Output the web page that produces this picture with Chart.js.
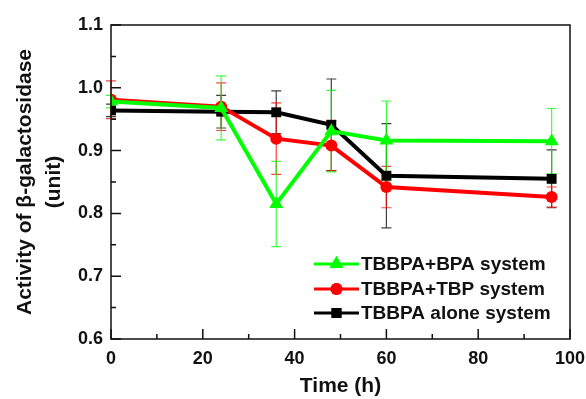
<!DOCTYPE html>
<html>
<head>
<meta charset="utf-8">
<script src="https://cdn.jsdelivr.net/npm/chart.js@4"></script>
<style>
html,body{margin:0;padding:0;background:#fff;}
#wrap{width:586px;height:399px;}
</style>
</head>
<body>
<div id="wrap"><canvas id="c" width="586" height="399"></canvas></div>
<script>
const times = [0, 24, 36, 48, 60, 96];
const seriesNames = ['TBBPA+BPA system', 'TBBPA+TBP system', 'TBBPA alone system'];
const bpaValues = [0.978, 0.968, 0.815, 0.931, 0.916, 0.915];
const bpaErrors = [0.010, 0.051, 0.068, 0.065, 0.063, 0.052];
const tbpValues = [0.981, 0.970, 0.919, 0.908, 0.842, 0.826];
const tbpErrors = [0.030, 0.038, 0.057, 0.040, 0.033, 0.016];
const aloneValues = [0.964, 0.962, 0.961, 0.941, 0.860, 0.855];
const aloneErrors = [0.010, 0.026, 0.034, 0.073, 0.083, 0.046];
const xTicks = [0, 20, 40, 60, 80, 100];
const yTicks = [0.6, 0.7, 0.8, 0.9, 1.0, 1.1];

const colors = ['#00ff00', '#ff0000', '#000000'];
const styles = ['triangle', 'circle', 'rect'];
const radii = [8, 6, 7];
const allValues = [bpaValues, tbpValues, aloneValues];
const allErrors = [bpaErrors, tbpErrors, aloneErrors];

const datasets = allValues.map((vals, i) => ({
  label: seriesNames[i],
  data: times.map((t, j) => ({x: t, y: vals[j]})),
  errors: allErrors[i],
  borderColor: colors[i],
  backgroundColor: colors[i],
  borderWidth: 4,
  pointStyle: styles[i],
  pointRadius: radii[i],
  pointBorderWidth: 0,
  pointBackgroundColor: colors[i],
  tension: 0,
  fill: false
}));

const errorBars = {
  id: 'errorBars',
  beforeDatasetsDraw(chart) {
    const ctx = chart.ctx;
    const xs = chart.scales.x, ys = chart.scales.y;
    ctx.save();
    for (let i = chart.data.datasets.length - 1; i >= 0; i--) {
      const ds = chart.data.datasets[i];
      ctx.strokeStyle = ds.borderColor;
      ctx.globalAlpha = 0.75;
      ctx.lineWidth = 1.2;
      ds.data.forEach((p, j) => {
        const e = ds.errors[j];
        const px = xs.getPixelForValue(p.x);
        const top = ys.getPixelForValue(p.y + e);
        const bot = ys.getPixelForValue(p.y - e);
        ctx.beginPath();
        ctx.moveTo(px, top); ctx.lineTo(px, bot);
        ctx.moveTo(px - 5, top); ctx.lineTo(px + 5, top);
        ctx.moveTo(px - 5, bot); ctx.lineTo(px + 5, bot);
        ctx.stroke();
      });
    }
    ctx.restore();
  }
};

const frame = {
  id: 'frame',
  afterDraw(chart) {
    const ctx = chart.ctx;
    const a = chart.chartArea;
    const xs = chart.scales.x, ys = chart.scales.y;
    ctx.save();
    ctx.strokeStyle = '#111';
    ctx.lineWidth = 1.5;
    ctx.strokeRect(a.left, a.top, a.right - a.left, a.bottom - a.top);
    ctx.beginPath();
    for (let v = 0; v <= 100; v += 10) {
      const px = xs.getPixelForValue(v);
      const len = (v % 20 === 0) ? 10 : 5;
      ctx.moveTo(px, a.bottom); ctx.lineTo(px, a.bottom - len);
    }
    for (let k = 0; k <= 10; k++) {
      const v = 0.6 + k * 0.05;
      const py = ys.getPixelForValue(v);
      const len = (k % 2 === 0) ? 10 : 5;
      ctx.moveTo(a.left, py); ctx.lineTo(a.left + len, py);
    }
    ctx.stroke();

    // legend
    const rows = [264, 289, 313];
    const lx0 = 314, lx1 = 359;
    ctx.font = 'bold 19px "Liberation Sans", Arial, sans-serif';
    ctx.textBaseline = 'middle';
    chart.data.datasets.forEach((ds, i) => {
      const y = rows[i];
      ctx.strokeStyle = ds.borderColor;
      ctx.lineWidth = 3;
      ctx.beginPath(); ctx.moveTo(lx0, y); ctx.lineTo(lx1, y); ctx.stroke();
      ctx.fillStyle = ds.borderColor;
      Chart.helpers.drawPoint(ctx, {pointStyle: ds.pointStyle, radius: ds.pointRadius, borderWidth: 0}, (lx0 + lx1) / 2, y);
      ctx.fill();
      ctx.fillStyle = '#111';
      ctx.fillText(ds.label, 361, y + 1);
    });
    ctx.restore();
  }
};

new Chart(document.getElementById('c'), {
  type: 'line',
  data: {datasets},
  options: {
    responsive: false,
    animation: false,
    layout: {padding: {top: 25, right: 16, left: 0, bottom: 0}},
    plugins: {legend: {display: false}, tooltip: {enabled: false}},
    scales: {
      x: {
        type: 'linear', min: 0, max: 100,
        afterFit: s => { s.height = 60; s.paddingLeft = 0; s.paddingRight = 0; },
        afterBuildTicks: s => { s.ticks = xTicks.map(v => ({value: v})); },
        grid: {display: false, drawTicks: false},
        border: {display: false},
        ticks: {color: '#111', padding: 9, font: {family: '"Liberation Sans", Arial', size: 18, weight: 'bold'}},
        title: {display: true, text: 'Time (h)', color: '#111', padding: {top: 0, bottom: 0},
          font: {family: '"Liberation Sans", Arial', size: 21, weight: 'bold'}}
      },
      y: {
        min: 0.6, max: 1.1,
        afterFit: s => { s.width = 111; s.paddingTop = 0; s.paddingBottom = 0; },
        afterBuildTicks: s => { s.ticks = yTicks.map(v => ({value: v})); },
        grid: {display: false, drawTicks: false},
        border: {display: false},
        ticks: {color: '#111', padding: 8, callback: v => v.toFixed(1),
          font: {family: '"Liberation Sans", Arial', size: 18, weight: 'bold'}},
        title: {display: true, text: ['Activity of β-galactosidase', '(unit)'], color: '#111',
          padding: {top: 11, bottom: 0},
          font: {family: '"Liberation Sans", Arial', size: 21, weight: 'bold', lineHeight: 1.38}}
      }
    }
  },
  plugins: [errorBars, frame]
});
</script>
</body>
</html>
